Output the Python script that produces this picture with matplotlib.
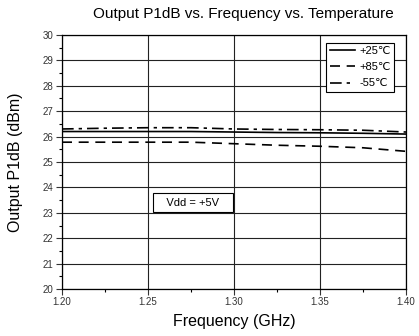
import matplotlib
matplotlib.use("Agg")
import matplotlib.pyplot as plt
from matplotlib.ticker import MultipleLocator, FormatStrFormatter

freq = [1.20, 1.225, 1.25, 1.275, 1.30, 1.325, 1.35, 1.375, 1.40]
p_25 = [26.20, 26.20, 26.20, 26.20, 26.18, 26.16, 26.15, 26.13, 26.10]
p_85 = [25.78, 25.78, 25.78, 25.78, 25.72, 25.66, 25.62, 25.56, 25.42]
p_m55 = [26.30, 26.33, 26.35, 26.35, 26.30, 26.28, 26.27, 26.25, 26.18]
labels = ["+25\u2103", "+85\u2103", "-55\u2103"]

plt.rcParams["font.family"] = ["Liberation Sans", "DejaVu Sans"]

fig = plt.figure(figsize=(4.19, 3.36), dpi=100)
ax = fig.add_axes([62 / 419, 1 - 289 / 336, 344 / 419, 254 / 336])

ax.plot(freq, p_25, color="black", lw=1.2, ls="-", label=labels[0])
ax.plot(freq, p_85, color="black", lw=1.2, ls=(0, (6, 4)), label=labels[1])
ax.plot(freq, p_m55, color="black", lw=1.2, ls=(0, (7, 3, 2, 3)), label=labels[2])

ax.set_xlim(1.20, 1.40)
ax.set_ylim(20, 30)
ax.xaxis.set_major_locator(MultipleLocator(0.05))
ax.xaxis.set_minor_locator(MultipleLocator(0.025))
ax.yaxis.set_major_locator(MultipleLocator(1))
ax.yaxis.set_minor_locator(MultipleLocator(0.5))
ax.xaxis.set_major_formatter(FormatStrFormatter("%.2f"))
ax.grid(True, which="major", color="#222222", lw=0.8)
ax.tick_params(which="major", direction="out", length=4, width=0.8,
               labelsize=7, colors="#333333", pad=2)
ax.tick_params(which="minor", direction="out", length=2, width=0.8)
for s in ax.spines.values():
    s.set_linewidth(0.9)

ax.set_xlabel("Frequency (GHz)", fontsize=11.5, labelpad=5)
ax.set_ylabel("Output P1dB (dBm)", fontsize=11.5, labelpad=14)
fig.text(243 / 419, 1 - 14 / 336, "Output P1dB vs. Frequency vs. Temperature",
         ha="center", va="center", fontsize=11)

leg = ax.legend(loc="upper right", bbox_to_anchor=(0.966, 0.969),
                fontsize=8, frameon=True, fancybox=False,
                edgecolor="black", framealpha=1, handlelength=2.3,
                borderpad=0.3, labelspacing=0.55, handletextpad=0.4,
                borderaxespad=0)
leg.get_frame().set_linewidth(0.8)

ax.text(1.2555, 23.4, "   Vdd = +5V   ", fontsize=8, ha="left", va="center",
        bbox=dict(boxstyle="square,pad=0.4", fc="white", ec="black", lw=0.8))

fig.savefig("out.png", dpi=100)
